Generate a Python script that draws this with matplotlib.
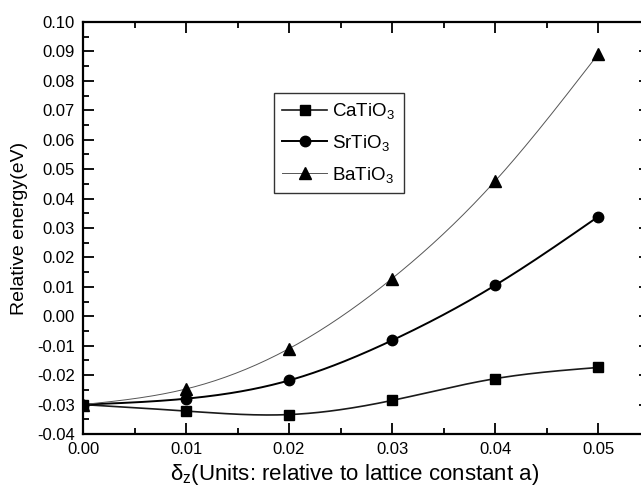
import numpy as np
import matplotlib
matplotlib.use("Agg")
import matplotlib.pyplot as plt
from matplotlib.ticker import MultipleLocator, FormatStrFormatter

plt.rcParams['font.family'] = ['Liberation Sans', 'DejaVu Sans']
plt.rcParams['mathtext.fontset'] = 'custom'
plt.rcParams['mathtext.rm'] = 'Liberation Sans'
plt.rcParams['mathtext.it'] = 'Liberation Sans'
plt.rcParams['axes.unicode_minus'] = False

# displacement (units of lattice constant a)
delta_z = [0.00, 0.01, 0.02, 0.03, 0.04, 0.05]

# relative energies (eV)
ca_tio3 = [-0.0300, -0.0322, -0.0334, -0.0286, -0.0212, -0.0174]
sr_tio3 = [-0.0300, -0.0280, -0.0218, -0.0082, 0.0105, 0.0338]
ba_tio3 = [-0.0300, -0.0247, -0.0110, 0.0128, 0.0459, 0.0890]

labels = ['CaTiO$_3$', 'SrTiO$_3$', 'BaTiO$_3$']


def natural_spline(x, y, n=200):
    """Smooth natural cubic spline through the given points."""
    x = np.asarray(x, float)
    y = np.asarray(y, float)
    k = len(x)
    h = np.diff(x)
    A = np.zeros((k, k))
    r = np.zeros(k)
    A[0, 0] = A[-1, -1] = 1.0
    for i in range(1, k - 1):
        A[i, i - 1] = h[i - 1]
        A[i, i] = 2 * (h[i - 1] + h[i])
        A[i, i + 1] = h[i]
        r[i] = 3 * ((y[i + 1] - y[i]) / h[i] - (y[i] - y[i - 1]) / h[i - 1])
    c = np.linalg.solve(A, r)
    b = (np.diff(y) / h) - h * (2 * c[:-1] + c[1:]) / 3
    d = np.diff(c) / (3 * h)
    xs = np.linspace(x[0], x[-1], n)
    idx = np.clip(np.searchsorted(x, xs) - 1, 0, k - 2)
    t = xs - x[idx]
    ys = y[idx] + b[idx] * t + c[idx] * t ** 2 + d[idx] * t ** 3
    return xs, ys


fig = plt.figure(figsize=(6.41, 4.87), dpi=100)
ax = fig.add_axes([83 / 641, 1 - 434 / 487, 566.5 / 641, 412 / 487])

series = [
    (ca_tio3, 's', 7.0, 1.2, '#1a1a1a'),
    (sr_tio3, 'o', 7.5, 1.4, '#000000'),
    (ba_tio3, '^', 9.0, 0.7, '#555555'),
]
for (vals, mk, ms, lw, lc), lab in zip(series, labels):
    xs, ys = natural_spline(delta_z, vals)
    ax.plot(xs, ys, '-', color=lc, lw=lw, zorder=2)
    ax.plot(delta_z, vals, linestyle='none', marker=mk, ms=ms,
            color='black', zorder=3)
    ax.plot([], [], '-', color=lc, lw=lw, marker=mk, ms=ms,
            markerfacecolor='black', markeredgecolor='black', label=lab)

ax.set_xlim(0, 0.055)
ax.set_ylim(-0.04, 0.10)
ax.xaxis.set_major_locator(MultipleLocator(0.01))
ax.xaxis.set_minor_locator(MultipleLocator(0.005))
ax.yaxis.set_major_locator(MultipleLocator(0.01))
ax.yaxis.set_minor_locator(MultipleLocator(0.005))
ax.xaxis.set_major_formatter(FormatStrFormatter('%.2f'))
ax.yaxis.set_major_formatter(FormatStrFormatter('%.2f'))

ax.tick_params(which='both', direction='in', top=True, right=True,
               labelsize=12, width=1.3, pad=6)
ax.tick_params(which='major', length=8)
ax.tick_params(which='minor', length=4.5)
for s in ax.spines.values():
    s.set_linewidth(1.6)

ax.set_xlabel('δ$_z$(Units: relative to lattice constant a)', fontsize=16,
              labelpad=3)
ax.xaxis.set_label_coords(0.48, -0.068)
ax.set_ylabel('Relative energy(eV)', fontsize=14, labelpad=6)

leg = ax.legend(loc='upper left', bbox_to_anchor=(0.337, 0.828),
                fontsize=13.5, frameon=True, fancybox=False,
                edgecolor='black', handlelength=2.4, handletextpad=0.25,
                borderpad=0.45, labelspacing=0.62, borderaxespad=0)
leg.get_frame().set_linewidth(1.0)

fig.savefig('out.png', dpi=100)
